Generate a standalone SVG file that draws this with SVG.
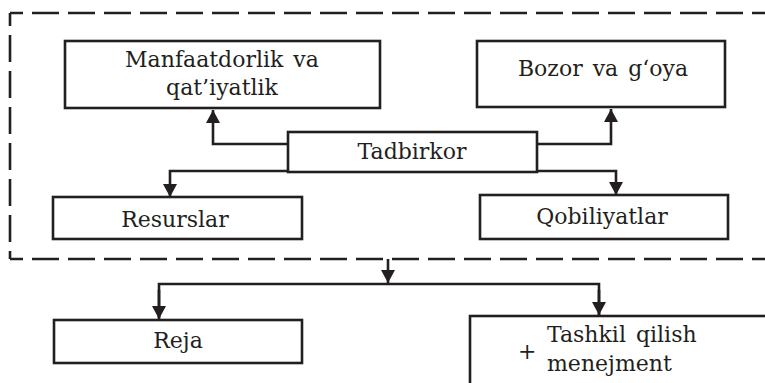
<svg xmlns="http://www.w3.org/2000/svg" width="765" height="383" viewBox="0 0 765 383">
  <style>
    .box { fill: #ffffff; stroke: #231f20; stroke-width: 2.6; }
    text { font-family: 'DejaVu Serif', serif; font-size: 22px; fill: #231f20; word-spacing: 3px; }
    .mid { text-anchor: middle; }
    .wire { fill: none; stroke: #231f20; stroke-width: 2.6; }
    .dash { fill: none; stroke: #231f20; stroke-width: 2.6; stroke-dasharray: 27 9; stroke-dashoffset: 14; }
  </style>
  <defs>
    <marker id="arrow" markerUnits="userSpaceOnUse" markerWidth="16" markerHeight="14" refX="13" refY="7" orient="auto">
      <path d="M0,0 L13,7 L0,14 Z" fill="#231f20"/>
    </marker>
  </defs>

  <rect width="765" height="383" fill="#ffffff"/>

  <!-- dashed frame around the entrepreneur block -->
  <g id="frame">
    <line class="dash" x1="10" y1="13" x2="765" y2="13"/>
    <line class="dash" x1="10" y1="259" x2="765" y2="259"/>
    <line class="dash" x1="10" y1="13" x2="10" y2="259"/>
  </g>

  <!-- connectors -->
  <g id="connectors">
    <path class="wire" d="M288,144 H213 V110" marker-end="url(#arrow)"/>
    <path class="wire" d="M537,144 H611 V109" marker-end="url(#arrow)"/>
    <path class="wire" d="M288,171 H170 V197" marker-end="url(#arrow)"/>
    <path class="wire" d="M537,171 H616 V195" marker-end="url(#arrow)"/>
    <path class="wire" d="M388,259 V283" marker-end="url(#arrow)"/>
    <path class="wire" d="M159,318 V284 H599 V315"/>
    <path class="wire" d="M159,290 V319" marker-end="url(#arrow)"/>
    <path class="wire" d="M599,290 V315" marker-end="url(#arrow)"/>
  </g>

  <g id="manfaatdorlik">
    <rect class="box" x="65" y="41" width="315" height="67"/>
    <text class="mid" x="222" y="67">Manfaatdorlik va</text>
    <text class="mid" x="222" y="95">qat’iyatlik</text>
  </g>

  <g id="bozor">
    <rect class="box" x="477" y="41" width="248" height="66"/>
    <text class="mid" x="603" y="76">Bozor va g‘oya</text>
  </g>

  <g id="tadbirkor">
    <rect class="box" x="288" y="132" width="249" height="40"/>
    <text class="mid" x="412" y="159">Tadbirkor</text>
  </g>

  <g id="resurslar">
    <rect class="box" x="53" y="197" width="249" height="42"/>
    <text class="mid" x="175" y="227">Resurslar</text>
  </g>

  <g id="qobiliyatlar">
    <rect class="box" x="480" y="195" width="248" height="44"/>
    <text class="mid" x="602" y="224">Qobiliyatlar</text>
  </g>

  <g id="reja">
    <rect class="box" x="54" y="320" width="248" height="43"/>
    <text class="mid" x="178" y="348">Reja</text>
  </g>

  <g id="tashkil">
    <rect class="box" x="470" y="316" width="320" height="100"/>
    <text x="518" y="359">+</text>
    <text x="547" y="342">Tashkil qilish</text>
    <text x="547" y="371">menejment</text>
  </g>
</svg>
